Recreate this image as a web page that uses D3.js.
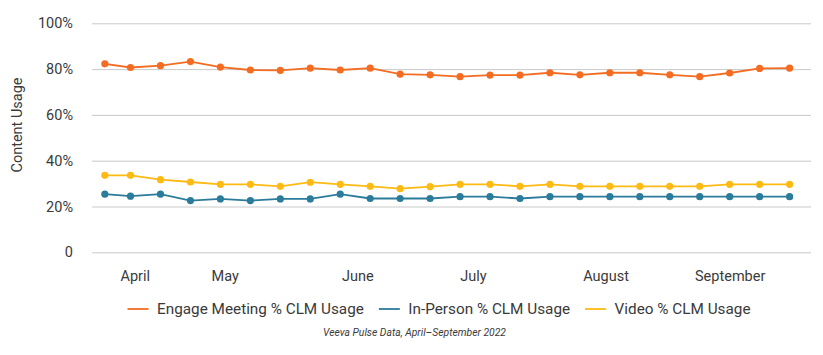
<!DOCTYPE html>
<html>
<head>
<meta charset="utf-8">
<script src="https://cdn.jsdelivr.net/npm/d3@7"></script>
<style>
  html, body { margin: 0; padding: 0; background: #fff; }
  svg { display: block; font-family: Roboto, "Noto Sans", sans-serif; }
</style>
</head>
<body>
<svg id="chart" width="823" height="355"></svg>
<script>
// ---- Data ----
const dates = ["2022-04-02","2022-04-08","2022-04-15","2022-04-22","2022-04-29",
  "2022-05-06","2022-05-13","2022-05-20","2022-05-27","2022-06-03","2022-06-10",
  "2022-06-17","2022-06-24","2022-07-01","2022-07-08","2022-07-15","2022-07-22",
  "2022-07-29","2022-08-05","2022-08-12","2022-08-19","2022-08-26","2022-09-02","2022-09-09"];
const engageMeeting = [82.3, 80.7, 81.5, 83.3, 80.9, 79.6, 79.4, 80.4, 79.6, 80.4, 77.8, 77.5,
  76.7, 77.4, 77.4, 78.4, 77.5, 78.4, 78.4, 77.5, 76.7, 78.3, 80.3, 80.4];
const inPerson = [25.4, 24.5, 25.4, 22.6, 23.3, 22.6, 23.3, 23.3, 25.4, 23.5, 23.5, 23.5,
  24.3, 24.3, 23.5, 24.3, 24.3, 24.3, 24.3, 24.3, 24.3, 24.3, 24.3, 24.3];
const video = [33.6, 33.6, 31.7, 30.7, 29.7, 29.7, 28.8, 30.6, 29.7, 28.8, 27.8, 28.7,
  29.7, 29.7, 28.8, 29.7, 28.8, 28.8, 28.8, 28.8, 28.8, 29.7, 29.7, 29.7];
const seriesNames = ["Engage Meeting % CLM Usage", "In-Person % CLM Usage", "Video % CLM Usage"];
const seriesColors = ["#F36C21", "#2B7B9B", "#FDBA12"];
const monthLabels = ["April", "May", "June", "July", "August", "September"];
const monthLabelDates = ["2022-04-09", "2022-04-30", "2022-05-31", "2022-06-27", "2022-07-28", "2022-08-26"];
const yTicks = [0, 20, 40, 60, 80, 100];
const xDomain = ["2022-03-30", "2022-09-14"];
const yAxisTitle = "Content Usage";
const footnote = "Veeva Pulse Data, April\u2013September 2022";

// ---- Layout ----
const parse = d3.utcParse("%Y-%m-%d");
const svg = d3.select("#chart");
const plotLeft = 92, plotRight = 811, plotTop = 23.3, plotBottom = 252.3;
const textColor = "#3a3a3a";

const x = d3.scaleUtc().domain(xDomain.map(parse)).range([plotLeft, plotRight]);
const y = d3.scaleLinear().domain([0, 100]).range([plotBottom, plotTop]);

// Gridlines + y labels
const yAxis = d3.axisLeft(y).tickValues(yTicks)
  .tickSize(-(plotRight - plotLeft))
  .tickPadding(19)
  .tickFormat(d => d === 0 ? "0" : d + "%");
const gy = svg.append("g").attr("transform", `translate(${plotLeft},0)`).call(yAxis);
gy.select(".domain").remove();
gy.selectAll(".tick line").attr("stroke", "#c9c9c9").attr("stroke-width", 1);
gy.selectAll(".tick text").attr("fill", textColor).attr("font-size", "14.5px")
  .attr("font-family", "Roboto, sans-serif");

// x month labels
const xAxis = d3.axisBottom(x).tickValues(monthLabelDates.map(parse))
  .tickSize(0).tickPadding(0)
  .tickFormat((d, i) => monthLabels[i]);
const gx = svg.append("g").attr("transform", `translate(0,${plotBottom})`).call(xAxis);
gx.select(".domain").remove();
gx.selectAll(".tick text").attr("fill", textColor).attr("font-size", "14.5px")
  .attr("font-family", "Roboto, sans-serif").attr("dy", null).attr("y", 28.5);

// y-axis title
svg.append("text")
  .attr("transform", `translate(22,125) rotate(-90)`)
  .attr("text-anchor", "middle")
  .attr("fill", textColor)
  .attr("font-size", "14.5px")
  .text(yAxisTitle);

// Series
const allSeries = [engageMeeting, inPerson, video];
const pts = dates.map(parse);
const line = d3.line().x((d, i) => x(pts[i])).y(d => y(d));
allSeries.forEach((vals, si) => {
  const g = svg.append("g");
  g.append("path").datum(vals)
    .attr("fill", "none")
    .attr("stroke", seriesColors[si])
    .attr("stroke-width", 1.8)
    .attr("d", line);
  g.selectAll("circle").data(vals).join("circle")
    .attr("cx", (d, i) => x(pts[i]))
    .attr("cy", d => y(d))
    .attr("r", 3.6)
    .attr("fill", seriesColors[si]);
});

// Legend
const legend = svg.append("g");
const lineLen = 21, gapText = 8.5, gapItem = 15, legendY = 309, legendCenter = 439;
const items = seriesNames.map((name, i) => {
  const g = legend.append("g");
  g.append("line").attr("x1", 0).attr("x2", lineLen).attr("y1", 0).attr("y2", 0)
    .attr("stroke", seriesColors[i]).attr("stroke-width", 1.8);
  const t = g.append("text").attr("x", lineLen + gapText).attr("y", 4.6)
    .attr("fill", textColor).attr("font-size", "15.3px").text(name);
  return { g, w: lineLen + gapText + t.node().getComputedTextLength() };
});
const total = d3.sum(items, d => d.w) + gapItem * (items.length - 1);
let cursorX = legendCenter - total / 2;
items.forEach(it => {
  it.g.attr("transform", `translate(${cursorX},${legendY})`);
  cursorX += it.w + gapItem;
});

// Footnote
svg.append("text")
  .attr("x", 414.5).attr("y", 336)
  .attr("text-anchor", "middle")
  .attr("fill", textColor)
  .attr("font-size", "11.5px")
  .attr("font-style", "italic")
  .attr("textLength", 183)
  .attr("lengthAdjust", "spacingAndGlyphs")
  .text(footnote);
</script>
</body>
</html>
